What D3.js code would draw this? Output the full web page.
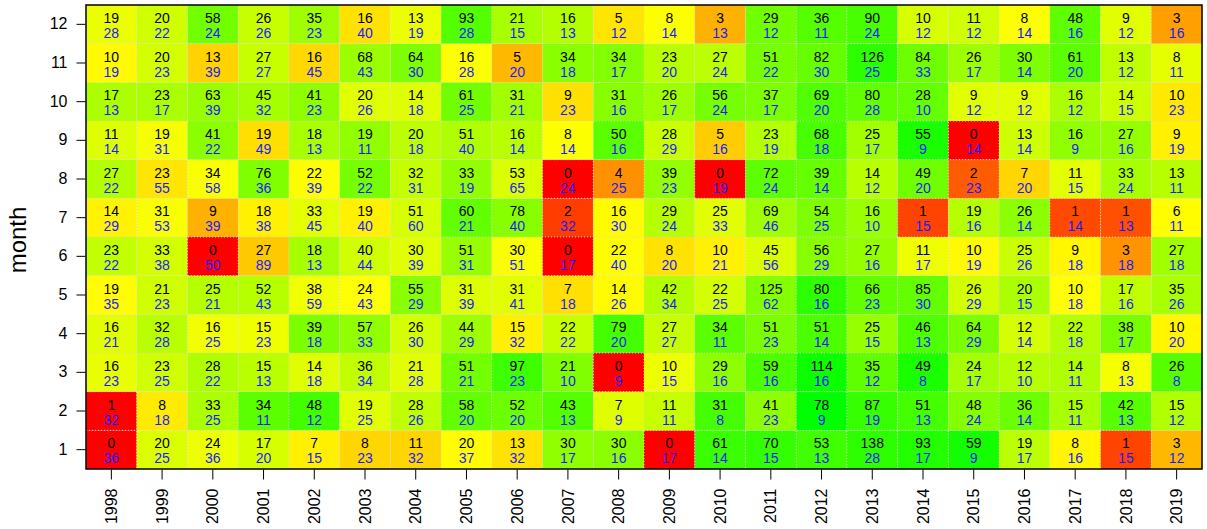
<!DOCTYPE html>
<html>
<head>
<meta charset="utf-8">
<script src="https://cdn.jsdelivr.net/npm/d3@7"></script>
<style>
  html, body { margin: 0; padding: 0; background: #ffffff; }
  svg { display: block; font-family: "Liberation Sans", Arial, sans-serif; }
</style>
</head>
<body>
<svg id="chart" width="1207" height="529"></svg>
<script>
// ---- data ----
const years = [1998,1999,2000,2001,2002,2003,2004,2005,2006,2007,2008,2009,2010,2011,2012,2013,2014,2015,2016,2017,2018,2019];
const months = [1,2,3,4,5,6,7,8,9,10,11,12];
const yTickLabels = ["1","2","3","4","5","6","7","8","9","10","11","12"];

// upper (black) numbers, one row per month (1..12), one value per year
const upperValues = [
  [0,20,24,17,7,8,11,20,13,30,30,0,61,70,53,138,93,59,19,8,1,3],        // 1
  [1,8,33,34,48,19,28,58,52,43,7,11,31,41,78,87,51,48,36,15,42,15],     // 2
  [16,23,28,15,14,36,21,51,97,21,0,10,29,59,114,35,49,24,12,14,8,26],   // 3
  [16,32,16,15,39,57,26,44,15,22,79,27,34,51,51,25,46,64,12,22,38,10],  // 4
  [19,21,25,52,38,24,55,31,31,7,14,42,22,125,80,66,85,26,20,10,17,35],  // 5
  [23,33,0,27,18,40,30,51,30,0,22,8,10,45,56,27,11,10,25,9,3,27],       // 6
  [14,31,9,18,33,19,51,60,78,2,16,29,25,69,54,16,1,19,26,1,1,6],        // 7
  [27,23,34,76,22,52,32,33,53,0,4,39,0,72,39,14,49,2,7,11,33,13],       // 8
  [11,19,41,19,18,19,20,51,16,8,50,28,5,23,68,25,55,0,13,16,27,9],      // 9
  [17,23,63,45,41,20,14,61,31,9,31,26,56,37,69,80,28,9,9,16,14,10],     // 10
  [10,20,13,27,16,68,64,16,5,34,34,23,27,51,82,126,84,26,30,61,13,8],   // 11
  [19,20,58,26,35,16,13,93,21,16,5,8,3,29,36,90,10,11,8,48,9,3]         // 12
];

// lower (blue) numbers
const lowerValues = [
  [36,25,36,20,15,23,32,37,32,17,16,17,14,15,13,28,17,9,17,16,15,12],  // 1
  [32,18,25,11,12,25,26,20,20,13,9,11,8,23,9,19,13,24,14,11,13,12],     // 2
  [23,25,22,13,18,34,28,21,23,10,9,15,16,16,16,12,8,17,10,11,13,8],     // 3
  [21,28,25,23,18,33,30,29,32,22,20,27,11,23,14,15,13,29,14,18,17,20],  // 4
  [35,23,21,43,59,43,29,39,41,18,26,34,25,62,16,23,30,29,15,18,16,26],  // 5
  [22,38,50,89,13,44,39,31,51,17,40,20,21,56,29,16,17,19,26,18,18,18],  // 6
  [29,53,39,38,45,40,60,21,40,32,30,24,33,46,25,10,15,16,14,14,13,11],  // 7
  [22,55,58,36,39,22,31,19,65,24,25,23,19,24,14,12,20,23,20,15,24,11],  // 8
  [14,31,22,49,13,11,18,40,14,14,16,29,16,19,18,17,9,14,14,9,16,19],    // 9
  [13,17,39,32,23,26,18,25,21,23,16,17,24,17,20,28,10,12,12,12,15,23],  // 10
  [19,23,39,27,45,43,30,28,20,18,17,20,24,22,30,25,33,17,14,20,12,11],  // 11
  [28,22,24,26,23,40,19,28,15,13,12,14,13,12,11,24,12,12,14,16,12,16]   // 12
];

// ---- layout ----
const svg = d3.select("#chart");
const plot = { left: 86, right: 1202, top: 5, bottom: 469 };

const x = d3.scaleBand().domain(years).range([plot.left, plot.right]).padding(0);
const y = d3.scaleBand().domain(months).range([plot.bottom, plot.top]).padding(0);

const colour = d3.scaleLinear()
  .domain([-5, -0.85, 3])
  .range(["#ff0000", "#ffff00", "#00ff00"])
  .interpolate(d3.interpolateRgb)
  .clamp(true);

function fillFor(u, l) {
  if (u <= 0) return "#ff0000";
  return colour(Math.log2(u / l));
}

const cells = [];
months.forEach((m, mi) => {
  years.forEach((yr, yi) => {
    cells.push({ year: yr, month: m, u: upperValues[mi][yi], l: lowerValues[mi][yi] });
  });
});

// cells
svg.append("g").selectAll("rect").data(cells).join("rect")
  .attr("x", d => x(d.year))
  .attr("y", d => y(d.month))
  .attr("width", x.bandwidth())
  .attr("height", y.bandwidth())
  .attr("fill", d => fillFor(d.u, d.l));

// dotted grid at cell boundaries
const grid = svg.append("g")
  .attr("stroke", "#d3d3d3")
  .attr("stroke-width", 1)
  .attr("stroke-dasharray", "1,2");
years.slice(1).forEach(yr => {
  grid.append("line")
    .attr("x1", x(yr)).attr("x2", x(yr))
    .attr("y1", plot.top).attr("y2", plot.bottom);
});
months.slice(0, -1).forEach(m => {
  grid.append("line")
    .attr("x1", plot.left).attr("x2", plot.right)
    .attr("y1", y(m)).attr("y2", y(m));
});

// cell labels
const labels = svg.append("g").attr("text-anchor", "middle").style("font-size", "14px");
labels.selectAll("text.u").data(cells).join("text")
  .attr("class", "u")
  .attr("x", d => x(d.year) + x.bandwidth() / 2)
  .attr("y", d => y(d.month) + y.bandwidth() / 2 - 1.5)
  .attr("fill", "#000000")
  .text(d => d.u);
labels.selectAll("text.l").data(cells).join("text")
  .attr("class", "l")
  .attr("x", d => x(d.year) + x.bandwidth() / 2)
  .attr("y", d => y(d.month) + y.bandwidth() / 2 + 13.5)
  .attr("fill", "#1a1aff")
  .text(d => d.l);

// frame
svg.append("rect")
  .attr("x", plot.left).attr("y", plot.top)
  .attr("width", plot.right - plot.left)
  .attr("height", plot.bottom - plot.top)
  .attr("fill", "none")
  .attr("stroke", "#000")
  .attr("stroke-width", 1.5);

// y axis
const yAxis = d3.axisLeft(y).tickSize(9).tickPadding(9).tickFormat((d, i) => yTickLabels[i]);
const gy = svg.append("g").attr("transform", `translate(${plot.left - 0.5},0)`).call(yAxis);
gy.select(".domain").remove();
gy.selectAll("text").style("font-size", "16px").attr("fill", "#000");
gy.selectAll("line").attr("stroke", "#000");

// x axis
const xAxis = d3.axisBottom(x).tickSize(10).tickPadding(9).tickFormat(d => String(d));
const gx = svg.append("g").attr("transform", `translate(0,${plot.bottom + 0.5})`).call(xAxis);
gx.select(".domain").remove();
gx.selectAll("line").attr("stroke", "#000");
gx.selectAll("text")
  .style("font-size", "16px")
  .attr("fill", "#000")
  .attr("transform", "rotate(-90)")
  .attr("text-anchor", "end")
  .attr("x", -19)
  .attr("y", 0)
  .attr("dy", "0.35em");

// y label
svg.append("text")
  .attr("transform", `translate(26,240) rotate(-90)`)
  .attr("text-anchor", "middle")
  .style("font-size", "24px")
  .attr("fill", "#000")
  .text("month");
</script>
</body>
</html>
